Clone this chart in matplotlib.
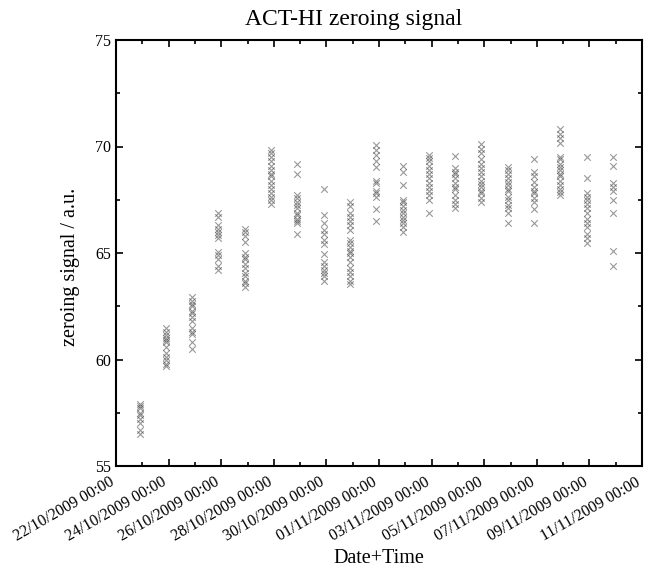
import pandas as pd
import matplotlib
matplotlib.use("Agg")
import matplotlib.pyplot as plt
import matplotlib.dates as mdates
from matplotlib.transforms import ScaledTranslation

# one measurement batch per day, taken in the evening
batch_times = pd.date_range("2009-10-22 21:30", periods=19, freq="1D")

signals = [
    [57.9, 57.8, 57.7, 57.5, 57.4, 57.2, 57.0, 56.7, 56.5],
    [61.5, 61.3, 61.15, 61.0, 60.9, 60.8, 60.6, 60.3, 60.1, 60.0, 59.8, 59.7],
    [62.95, 62.75, 62.6, 62.5, 62.3, 62.2, 62.0, 61.8, 61.5, 61.3, 61.2, 60.8, 60.5],
    [66.9, 66.7, 66.3, 66.15, 66.0, 65.85, 65.7, 65.05, 64.9, 64.7, 64.4, 64.2],
    [66.15, 66.0, 65.8, 65.5, 65.0, 64.8, 64.7, 64.5, 64.3, 64.05, 63.9, 63.7, 63.6, 63.4],
    [69.85, 69.7, 69.5, 69.3, 69.1, 68.9, 68.7, 68.6, 68.4, 68.2, 68.0, 67.8, 67.65, 67.5, 67.3],
    [69.2, 68.7, 67.7, 67.6, 67.4, 67.25, 67.1, 66.9, 66.8, 66.6, 66.5, 66.4, 65.9],
    [68.0, 66.8, 66.4, 66.1, 65.9, 65.6, 65.4, 64.95, 64.6, 64.4, 64.2, 64.05, 63.9, 63.7],
    [67.4, 67.2, 66.9, 66.7, 66.5, 66.3, 66.1, 65.6, 65.45, 65.3, 65.1, 65.0, 64.8, 64.6,
     64.3, 64.1, 63.9, 63.7, 63.55],
    [70.05, 69.85, 69.6, 69.3, 69.05, 68.4, 68.3, 67.9, 67.8, 67.65, 67.05, 66.5],
    [69.1, 68.8, 68.2, 67.5, 67.4, 67.2, 67.0, 66.9, 66.7, 66.55, 66.4, 66.2, 66.0],
    [69.6, 69.45, 69.3, 69.1, 68.9, 68.7, 68.5, 68.3, 68.1, 67.9, 67.7, 67.5, 66.9],
    [69.55, 69.0, 68.8, 68.7, 68.5, 68.3, 68.1, 68.0, 67.7, 67.5, 67.3, 67.1],
    [70.1, 69.9, 69.7, 69.4, 69.2, 69.0, 68.8, 68.6, 68.4, 68.25, 68.1, 67.9, 67.8, 67.6, 67.4],
    [69.05, 68.9, 68.7, 68.5, 68.35, 68.2, 68.0, 67.9, 67.65, 67.5, 67.25, 67.1, 66.9, 66.4],
    [69.4, 68.8, 68.6, 68.35, 68.1, 67.9, 67.8, 67.6, 67.4, 67.05, 66.4],
    [70.8, 70.6, 70.4, 70.15, 69.5, 69.4, 69.2, 69.05, 68.9, 68.7, 68.6, 68.4, 68.2, 68.0,
     67.85, 67.7],
    [69.5, 68.5, 67.8, 67.65, 67.5, 67.3, 67.1, 66.9, 66.6, 66.4, 66.2, 65.9, 65.7, 65.45],
    [69.5, 69.1, 68.3, 68.1, 67.9, 67.5, 66.9, 65.1, 64.4],
]

plt.rcParams["font.family"] = ["Liberation Serif", "DejaVu Serif"]

fig = plt.figure(figsize=(6.45, 5.73), dpi=100)
ax = fig.add_axes([116 / 645, 1 - 466 / 573, 526 / 645, 426 / 573])

xs, ys = [], []
for t, vals in zip(batch_times, signals):
    xs += [t] * len(vals)
    ys += vals
ax.scatter(xs, ys, marker="x", s=22, color="#444444", alpha=0.55, linewidths=0.8)

ax.set_xlim(pd.Timestamp("2009-10-22"), pd.Timestamp("2009-11-11"))
ax.set_ylim(55, 75)

ax.set_xticks(pd.date_range("2009-10-22", "2009-11-11", freq="2D"))
ax.set_xticks(pd.date_range("2009-10-22", "2009-11-11", freq="1D"), minor=True)
ax.xaxis.set_major_formatter(mdates.DateFormatter("%d/%m/%Y %H:%M"))
ax.set_yticks([55, 60, 65, 70, 75])
ax.set_yticks([57.5, 62.5, 67.5, 72.5], minor=True)

ax.tick_params(which="both", direction="in", top=True, right=True, width=1.2)
ax.tick_params(which="major", length=5)
ax.tick_params(which="minor", length=3)
ax.tick_params(axis="y", labelsize=11.5)
ax.tick_params(axis="x", labelsize=11.5, pad=11)
shift = ScaledTranslation(-3 / 100, 0, fig.dpi_scale_trans)
for lab in ax.get_xticklabels():
    lab.set_rotation(30)
    lab.set_ha("right")
    lab.set_va("center")
    lab.set_rotation_mode("anchor")
    lab.set_transform(lab.get_transform() + shift)
for sp in ax.spines.values():
    sp.set_linewidth(1.5)

ax.set_xlabel("Date+Time", fontsize=14.5, labelpad=3)
ax.set_ylabel("zeroing signal / a.u.", fontsize=14.5)
ax.yaxis.set_label_coords(-0.068, 0.467)
fig.text(354 / 645, 1 - 30 / 573, "ACT-HI zeroing signal", ha="center", va="bottom", fontsize=17)

fig.savefig("out.png", dpi=100)
plt.close(fig)
